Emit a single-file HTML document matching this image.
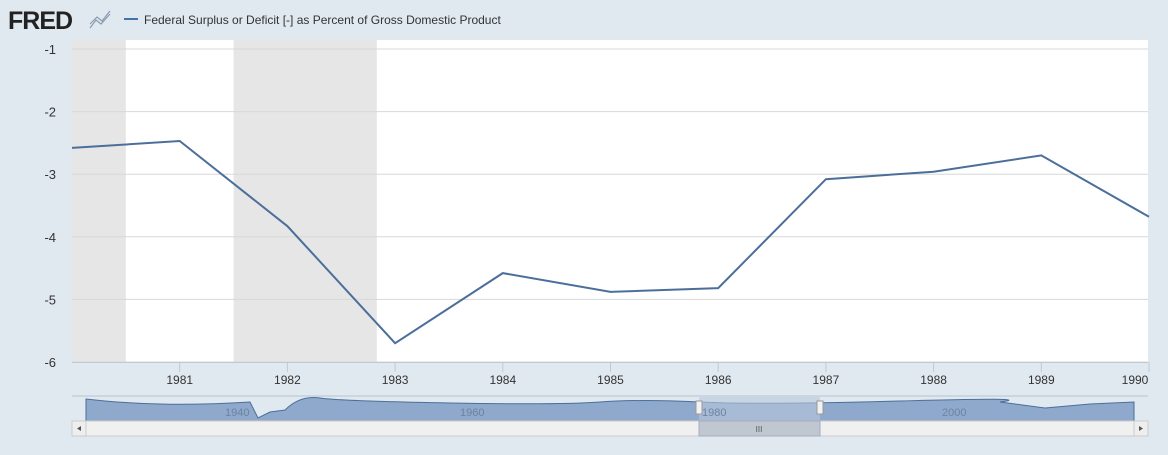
<!DOCTYPE html>
<html><head><meta charset="utf-8"><style>
body{margin:0;width:1168px;height:450px;background:#e1e9f0;font-family:"Liberation Sans",sans-serif;overflow:hidden}
</style></head><body>
<svg width="1168" height="450" xmlns="http://www.w3.org/2000/svg">
<text x="8" y="29" font-size="25" font-weight="bold" fill="#222" font-family="Liberation Sans" letter-spacing="-1">FRED</text>
<path d="M90 28 L96 20 L101 24 L110 14 M90 24 L97 17 L102 21 L110 11" stroke="#8a9bb0" fill="none" stroke-width="1.2"/>
<line x1="124" y1="19" x2="138" y2="19" stroke="#4572a7" stroke-width="2"/>
<text x="144" y="24" font-size="12" fill="#333">Federal Surplus or Deficit [-] as Percent of Gross Domestic Product</text>
<rect x="72" y="40" width="1076" height="322" fill="#fff"/>
<g id="rec"></g><g id="grid"></g><g id="xt"></g>
<path id="line" fill="none" stroke="#4b6f9a" stroke-width="2"/>
<line x1="72" y1="396" x2="1148" y2="396" stroke="#b8c2cc"/>
<path d="M86 399 Q120 403 160 404 T250 402 L258 418 L270 412 L285 410 Q300 395 320 398 T450 403 T600 402 T700 402 T900 401 T1000 402 L1045 408 L1090 404 L1134 402 L1134 421 L86 421 Z" fill="#8fa9cc" stroke="#4b6f9a"/>
<rect x="699" y="397" width="121" height="24" fill="#b8c8dc" opacity="0.6"/>
<text x="225" y="416" font-size="11" fill="#6d83a0">1940</text>
<text x="460" y="416" font-size="11" fill="#6d83a0">1960</text>
<text x="702" y="416" font-size="11" fill="#6d83a0">1980</text>
<text x="942" y="416" font-size="11" fill="#6d83a0">2000</text>
<rect x="696" y="401" width="6" height="13" fill="#f2f2f2" stroke="#999"/>
<rect x="817" y="401" width="6" height="13" fill="#f2f2f2" stroke="#999"/>
<rect x="72" y="421" width="1076" height="15" fill="#f0f0f0" stroke="#ccc"/>
<rect x="699" y="421" width="121" height="15" fill="#bfc8d1" stroke="#aab"/>
<text x="759" y="432" font-size="8" fill="#555" text-anchor="middle">III</text>
<rect x="72" y="421" width="14" height="15" fill="#eee" stroke="#ccc"/>
<path d="M81 426 L77 428.5 L81 431 Z" fill="#555"/>
<rect x="1134" y="421" width="14" height="15" fill="#eee" stroke="#ccc"/>
<path d="M1139 426 L1143 428.5 L1139 431 Z" fill="#555"/>
</svg>
<script>
const years=[1980,1981,1982,1983,1984,1985,1986,1987,1988,1989,1990];
const values=[-2.58,-2.47,-3.83,-5.70,-4.58,-4.88,-4.82,-3.08,-2.96,-2.70,-3.68];
const yTicks=[-1,-2,-3,-4,-5,-6];
const xTicks=[1981,1982,1983,1984,1985,1986,1987,1988,1989,1990];
const recessions=[[1980.0,1980.5],[1981.5,1982.83]];
const ns="http://www.w3.org/2000/svg";
const X=v=>72+(v-1980)*107.7;
const Y=v=>49+(-1-v)*62.6;
function mk(t,a,p){const e=document.createElementNS(ns,t);for(const k in a)e.setAttribute(k,a[k]);document.getElementById(p).appendChild(e);return e;}
recessions.forEach(r=>{const e=mk('rect',{x:X(r[0]),y:40,width:X(r[1])-X(r[0]),height:322,fill:'#e6e6e6'},'rec');

});
yTicks.forEach(t=>{const l=mk('line',{x1:72,x2:1148,y1:Y(t),y2:Y(t),stroke:'#d8d8d8'},'grid');


const tx=mk('text',{x:56,y:Y(t)+5,'font-size':13,fill:'#333','text-anchor':'end'},'grid');tx.textContent=t;

});
mk('line',{x1:72,x2:1148,y1:362.5,y2:362.5,stroke:'#c0c8d0'},'xt');
xTicks.forEach(t=>{const l=mk('line',{x1:X(t),x2:X(t),y1:362,y2:372,stroke:'#c0c8d0'},'xt');


const tx=mk('text',{x:Math.min(X(t),1135),y:384,'font-size':12,fill:'#333','text-anchor':'middle'},'xt');tx.textContent=t;

});
document.getElementById('line').setAttribute('d',years.map((y,i)=>(i?'L':'M')+X(y)+' '+Y(values[i])).join(' '));
</script>
</body></html>
